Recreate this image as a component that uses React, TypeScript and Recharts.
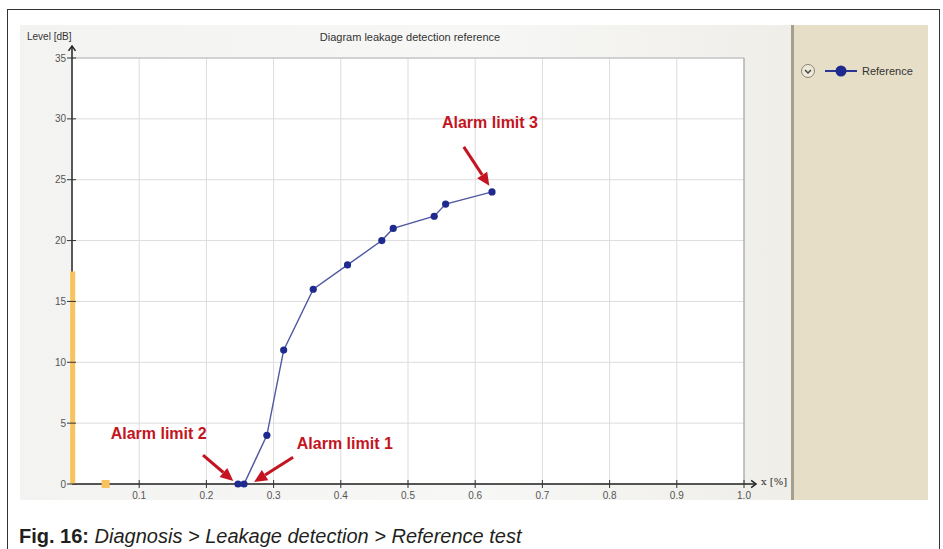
import React from "react";
import {
  ComposedChart,
  Line,
  Scatter,
  XAxis,
  YAxis,
  CartesianGrid,
  ReferenceLine,
  ReferenceDot,
} from "recharts";

// reference curve
const REF_X = [0.247, 0.256, 0.29, 0.315, 0.359, 0.41, 0.461, 0.478, 0.539, 0.556, 0.625];
const REF_Y = [0, 0, 4, 11, 16, 18, 20, 21, 22, 23, 24];

// orange current-value bar and marker
const BAR_X = [0.001, 0.001];
const BAR_Y = [0, 17.45];
const MARK_X = [0.05];
const MARK_Y = [0];

const X_TICKS = [0.1, 0.2, 0.3, 0.4, 0.5, 0.6, 0.7, 0.8, 0.9, 1.0];
const Y_TICKS = [0, 5, 10, 15, 20, 25, 30, 35];

const ANNOTATIONS = [
  { label: "Alarm limit 3", from: [0.583, 27.7], to: [0.621, 24.5], text: [0.622, 29.75] },
  { label: "Alarm limit 2", from: [0.195, 2.38], to: [0.24, 0.25], text: [0.129, 4.19] },
  { label: "Alarm limit 1", from: [0.329, 2.2], to: [0.271, 0.16], text: [0.406, 3.37] },
];

const refData = REF_X.map((x, i) => ({ x, y: REF_Y[i] }));
const barData = BAR_X.map((x, i) => ({ x, y: BAR_Y[i] }));
const markData = MARK_X.map((x, i) => ({ x, y: MARK_Y[i] }));

const CHART_FONT = "'Liberation Sans', Arial, sans-serif";
const RED = "#c41422";

const YTick = ({ x, y, payload }: any) => {
  const ax = x + 6;
  return (
    <g>
      <line x1={ax - 5} x2={ax + 4} y1={y} y2={y} stroke="#333" strokeWidth={1} />
      <text x={x} y={y} dy={3.5} textAnchor="end" fontSize={10} fill="#555" fontFamily={CHART_FONT}>
        {payload.value}
      </text>
    </g>
  );
};

const XTick = ({ x, y, payload }: any) => {
  const ay = y - 6;
  return (
    <g>
      <line x1={x} x2={x} y1={ay - 4} y2={ay + 4} stroke="#333" strokeWidth={1} />
      <text x={x} y={ay + 15} textAnchor="middle" fontSize={10} fill="#555" fontFamily={CHART_FONT}>
        {Number(payload.value).toFixed(1)}
      </text>
    </g>
  );
};

const arrowHead = (x1: number, y1: number, x2: number, y2: number) => {
  const ang = Math.atan2(y2 - y1, x2 - x1);
  const s = 6;
  const a1 = ang + Math.PI * 0.8;
  const a2 = ang - Math.PI * 0.8;
  return `${x2 + s * Math.cos(a1)},${y2 + s * Math.sin(a1)} ${x2},${y2} ${x2 + s * Math.cos(a2)},${y2 + s * Math.sin(a2)}`;
};

// both axes from one segment running from (0, 35) to (1, 0):
// the corner is (x1, y2); each axis pokes out 12px past the plot with an open arrow
const axesShape = (props: any) => {
  const { x1, y1, x2, y2 } = props;
  const left = Math.min(x1, x2);
  const right = Math.max(x1, x2);
  const top = Math.min(y1, y2);
  const bottom = Math.max(y1, y2);
  const yTip = top - 12;
  const xTip = right + 12;
  return (
    <g>
      <line x1={left} y1={bottom} x2={left} y2={yTip} stroke="#222" strokeWidth={1.5} />
      <polyline points={arrowHead(left, bottom, left, yTip)} fill="none" stroke="#222" strokeWidth={1.5} />
      <line x1={left} y1={bottom} x2={xTip} y2={bottom} stroke="#222" strokeWidth={1.5} />
      <polyline points={arrowHead(left, bottom, xTip, bottom)} fill="none" stroke="#222" strokeWidth={1.5} />
    </g>
  );
};

// red annotation arrow with filled head
const redArrow = (props: any) => {
  const { x1, y1, x2, y2 } = props;
  const ang = Math.atan2(y2 - y1, x2 - x1);
  const len = 13;
  const half = 6;
  const bx = x2 - len * Math.cos(ang);
  const by = y2 - len * Math.sin(ang);
  const px = -Math.sin(ang) * half;
  const py = Math.cos(ang) * half;
  return (
    <g>
      <line x1={x1} y1={y1} x2={bx} y2={by} stroke={RED} strokeWidth={3} />
      <polygon points={`${x2},${y2} ${bx + px},${by + py} ${bx - px},${by - py}`} fill={RED} />
    </g>
  );
};

const labelShape = (label: string) => (props: any) => {
  const { cx, cy } = props;
  return (
    <text
      x={cx}
      y={cy}
      dy={6}
      textAnchor="middle"
      fontSize={16}
      fontWeight="bold"
      fill={RED}
      fontFamily="'Liberation Sans', Arial, sans-serif"
    >
      {label}
    </text>
  );
};

export default function App() {
  return (
    <div
      style={{
        position: "absolute",
        left: 0,
        top: 0,
        width: 943,
        height: 549,
        background: "#fff",
        overflow: "hidden",
      }}
    >
      {/* outer frame */}
      <div
        style={{
          position: "absolute",
          left: 7,
          top: 9,
          width: 933,
          height: 560,
          border: "1.5px solid #333",
          boxSizing: "border-box",
        }}
      />
      {/* chart panel */}
      <div
        style={{
          position: "absolute",
          left: 20,
          top: 25,
          width: 772,
          height: 475,
          background: "linear-gradient(90deg, #f3f3f2 0%, #f7f7f6 60%, #efeee9 100%)",
        }}
      />
      {/* legend panel */}
      <div
        style={{
          position: "absolute",
          left: 791,
          top: 25,
          width: 137,
          height: 475,
          background: "#e6dec7",
          borderLeft: "3px solid #a59f90",
          boxSizing: "border-box",
        }}
      />
      <div style={{ position: "absolute", left: 27, top: 31, fontSize: 10, color: "#333", fontFamily: CHART_FONT }}>
        Level [dB]
      </div>
      <div
        style={{
          position: "absolute",
          left: 260,
          width: 300,
          top: 31,
          textAlign: "center",
          fontSize: 11,
          color: "#333",
          fontFamily: CHART_FONT,
        }}
      >
        Diagram leakage detection reference
      </div>
      <div style={{ position: "absolute", left: 761, top: 476, fontSize: 10, color: "#333", fontFamily: "'DejaVu Serif', serif" }}>
        x [%]
      </div>

      {/* legend */}
      <svg style={{ position: "absolute", left: 798, top: 60 }} width={125} height={24}>
        <circle cx={10} cy={11} r={6.5} fill="#efe9d9" stroke="#8a8578" strokeWidth={1} />
        <polyline points="7,10 10,13 13,10" fill="none" stroke="#444" strokeWidth={1.5} />
        <line x1={27} x2={59} y1={11} y2={11} stroke="#2b3592" strokeWidth={2} />
        <circle cx={43} cy={11} r={5.5} fill="#1f2a8f" />
        <text x={64} y={15} fontSize={11} fill="#333" fontFamily={CHART_FONT}>
          Reference
        </text>
      </svg>

      <div style={{ position: "absolute", left: 0, top: 0 }}>
        <ComposedChart
          width={943}
          height={549}
          margin={{ top: 58, right: 199, bottom: 45, left: 32 }}
        >
          <CartesianGrid
            stroke="#dcdcdc"
            fill="#ffffff"
            horizontalValues={Y_TICKS}
            verticalValues={X_TICKS}
          />
          <XAxis
            type="number"
            dataKey="x"
            domain={[0, 1]}
            ticks={X_TICKS}
            height={20}
            tickSize={4}
            tickMargin={2}
            axisLine={false}
            tickLine={false}
            tick={<XTick />}
          />
          <YAxis
            type="number"
            dataKey="y"
            domain={[0, 35]}
            ticks={Y_TICKS}
            width={40}
            tickSize={4}
            tickMargin={2}
            axisLine={false}
            tickLine={false}
            tick={<YTick />}
          />
          <ReferenceLine y={35} stroke="#b8b8b8" />
          <ReferenceLine x={1} stroke="#9a9a9a" />
          <ReferenceLine
            segment={[{ x: 0, y: 35 }, { x: 1, y: 0 }]}
            ifOverflow="visible"
            shape={axesShape}
          />
          <Line
            data={barData}
            dataKey="y"
            stroke="#f8c25e"
            strokeWidth={5}
            dot={false}
            legendType="none"
            isAnimationActive={false}
          />
          <Scatter
            data={markData}
            dataKey="y"
            fill="#f8c260"
            shape="square"
            legendType="none"
            isAnimationActive={false}
          />
          <Line
            data={refData}
            dataKey="y"
            stroke="#4f58a0"
            strokeWidth={1.4}
            dot={{ r: 3.6, fill: "#1f2a8f", stroke: "#1f2a8f", strokeWidth: 0 }}
            isAnimationActive={false}
          />
          {ANNOTATIONS.map((a) => (
            <ReferenceLine
              key={a.label + "-arrow"}
              segment={[
                { x: a.from[0], y: a.from[1] },
                { x: a.to[0], y: a.to[1] },
              ]}
              ifOverflow="visible"
              shape={redArrow}
            />
          ))}
          {ANNOTATIONS.map((a) => (
            <ReferenceDot
              key={a.label + "-text"}
              x={a.text[0]}
              y={a.text[1]}
              r={0}
              ifOverflow="visible"
              shape={labelShape(a.label)}
            />
          ))}
        </ComposedChart>
      </div>

      {/* caption */}
      <div
        style={{
          position: "absolute",
          left: 19,
          top: 525,
          fontSize: 20,
          color: "#231f20",
          fontFamily: "'Liberation Sans', Arial, sans-serif",
          whiteSpace: "nowrap",
        }}
      >
        <span style={{ fontWeight: "bold" }}>Fig. 16:</span>{" "}
        <span style={{ fontStyle: "italic" }}>Diagnosis &gt; Leakage detection &gt; Reference test</span>
      </div>
    </div>
  );
}
